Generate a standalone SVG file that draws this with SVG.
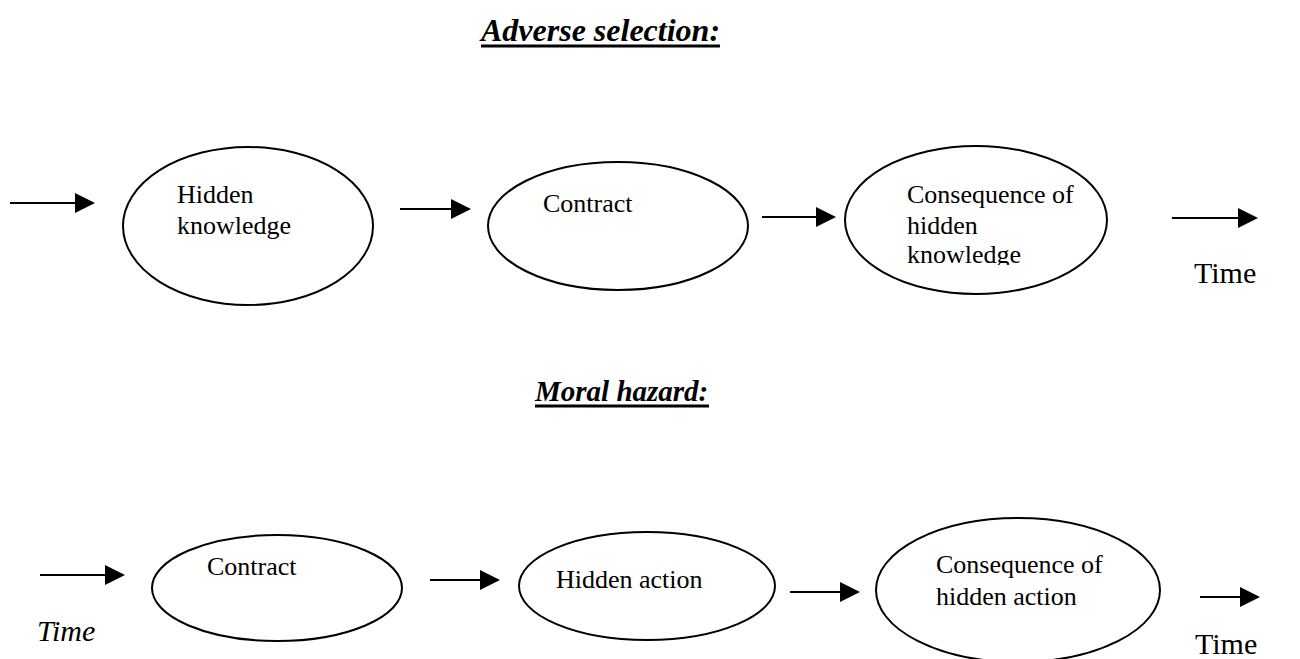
<svg xmlns="http://www.w3.org/2000/svg" width="1300" height="659" viewBox="0 0 1300 659">
<style>
.bg{fill:#ffffff}
.node{fill:#ffffff;stroke:#000000;stroke-width:2}
.conn{stroke:#000000;stroke-width:2;fill:none}
.lbl{font-family:"Liberation Serif","Times New Roman",serif;font-size:26px;fill:#000000}
.title{font-family:"Liberation Serif","Times New Roman",serif;font-size:32px;font-weight:bold;font-style:italic;fill:#000000}
.ul{stroke:#000000;stroke-width:3}
.time{font-family:"Liberation Serif","Times New Roman",serif;font-size:30px;fill:#000000}
.timei{font-family:"Liberation Serif","Times New Roman",serif;font-size:30px;font-style:italic;fill:#000000}
</style>
<defs>
<marker id="ah" markerUnits="userSpaceOnUse" markerWidth="20" markerHeight="20" refX="0" refY="10" orient="auto">
<path d="M0,0 L20,10 L0,20 Z" fill="#000000"/>
</marker>
<clipPath id="clip3">
<rect x="880" y="150" width="260" height="115"/>
</clipPath>
</defs>
<rect class="bg" x="0" y="0" width="1300" height="659"/>

<g id="title-adverse">
<text class="title" x="481" y="41">Adverse selection:</text>
<line class="ul" x1="481" y1="46" x2="720" y2="46"/>
</g>

<g id="title-moral">
<text class="title" x="535" y="401" style="font-size:29px">Moral hazard:</text>
<line class="ul" x1="535" y1="406" x2="709" y2="406"/>
</g>

<g id="as-hidden-knowledge">
<ellipse class="node" cx="248" cy="226" rx="125" ry="79"/>
<text class="lbl" x="177" y="203">Hidden</text>
<text class="lbl" x="177" y="234">knowledge</text>
</g>

<g id="as-contract">
<ellipse class="node" cx="618" cy="226" rx="130" ry="64"/>
<text class="lbl" x="543" y="212">Contract</text>
</g>

<g id="as-consequence">
<ellipse class="node" cx="976" cy="220" rx="131" ry="74"/>
<g clip-path="url(#clip3)">
<text class="lbl" x="907" y="203">Consequence of</text>
<text class="lbl" x="907" y="234">hidden</text>
<text class="lbl" x="907" y="263">knowledge</text>
</g>
</g>

<g id="as-time">
<text class="time" x="1194" y="283">Time</text>
</g>

<g id="mh-contract">
<ellipse class="node" cx="277" cy="588" rx="125" ry="53"/>
<text class="lbl" x="207" y="575">Contract</text>
</g>

<g id="mh-hidden-action">
<ellipse class="node" cx="647" cy="586" rx="128" ry="54"/>
<text class="lbl" x="556" y="588">Hidden action</text>
</g>

<g id="mh-consequence">
<ellipse class="node" cx="1018" cy="590" rx="142" ry="72"/>
<text class="lbl" x="936" y="573">Consequence of</text>
<text class="lbl" x="936" y="605">hidden action</text>
</g>

<g id="mh-time-left">
<text class="timei" x="37" y="641">Time</text>
</g>

<g id="mh-time-right">
<text class="time" x="1195" y="654">Time</text>
</g>

<g id="connectors">
<line class="conn" x1="10" y1="203" x2="75" y2="203" marker-end="url(#ah)"/>
<line class="conn" x1="400" y1="209" x2="451" y2="209" marker-end="url(#ah)"/>
<line class="conn" x1="762" y1="217" x2="816" y2="217" marker-end="url(#ah)"/>
<line class="conn" x1="1172" y1="218" x2="1238" y2="218" marker-end="url(#ah)"/>
<line class="conn" x1="40" y1="575" x2="105" y2="575" marker-end="url(#ah)"/>
<line class="conn" x1="430" y1="580" x2="480" y2="580" marker-end="url(#ah)"/>
<line class="conn" x1="790" y1="592" x2="840" y2="592" marker-end="url(#ah)"/>
<line class="conn" x1="1200" y1="597" x2="1240" y2="597" marker-end="url(#ah)"/>
</g>
</svg>
